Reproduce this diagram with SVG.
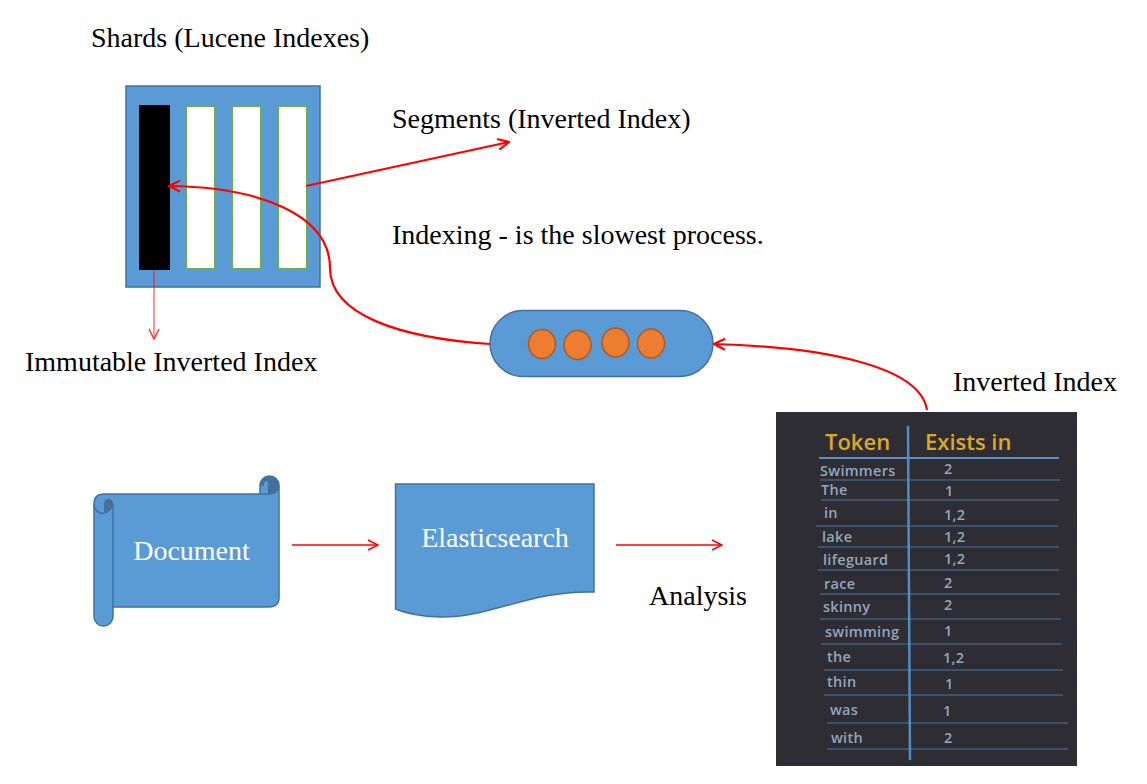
<svg xmlns="http://www.w3.org/2000/svg" width="1147" height="784" viewBox="0 0 1147 784">
<defs>
<marker id="ah" viewBox="0 0 12 12" refX="11" refY="6" markerWidth="12" markerHeight="12" markerUnits="userSpaceOnUse" orient="auto"><path d="M1 1L11 6L1 11" fill="none" stroke="#f00" stroke-width="1.500"/></marker>
<marker id="ahb" viewBox="0 0 14 14" refX="13" refY="7" markerWidth="14" markerHeight="14" markerUnits="userSpaceOnUse" orient="auto"><path d="M2 1.500L13 7L2 12.500" fill="none" stroke="#f00" stroke-width="2.200"/></marker>
</defs>
<style>
text{font-family:"Liberation Serif","Times New Roman",serif;font-size:28px;fill:#000}
.b{fill:#5b9bd5;stroke:#41719c;stroke-width:1.500}
.s{fill:#fff;stroke:#70ad47;stroke-width:2}
.o{fill:#ed7d31;stroke:#ae5a21;stroke-width:1.500}
text.w{fill:#fff}
text.tk{font-family:"Open Sans","DejaVu Sans",sans-serif;font-size:14.500px;fill:#93a6bb;font-weight:600;letter-spacing:.3px}
text.hd{font-family:"Open Sans","DejaVu Sans",sans-serif;font-size:22px;fill:#dba828;font-weight:600}
.rl{stroke:#4a78a8;stroke-width:1.200}
.c{fill:none;stroke:#f00}
</style>
<rect width="1147" height="784" fill="#fff"/>
<g id="labels">
<text x="91" y="47">Shards (Lucene Indexes)</text>
<text x="392" y="128">Segments (Inverted Index)</text>
<text x="392" y="244">Indexing - is the slowest process.</text>
<text x="25" y="371">Immutable Inverted Index</text>
<text x="953" y="391">Inverted Index</text>
<text x="649" y="605">Analysis</text>
</g>
<g id="shard">
<rect class="b" x="126" y="86" width="194" height="201"/>
<rect x="139" y="105" width="31" height="165" fill="#000"/>
<rect class="s" x="186" y="106" width="29" height="163"/>
<rect class="s" x="232" y="106" width="29" height="163"/>
<rect class="s" x="278" y="106" width="29" height="163"/>
</g>
<g id="queue">
<rect class="b" x="490" y="310.500" width="223" height="66" rx="33"/>
<ellipse class="o" cx="542" cy="344" rx="13.500" ry="14.500"/>
<ellipse class="o" cx="577.500" cy="345" rx="13.500" ry="14.500"/>
<ellipse class="o" cx="615.500" cy="342.500" rx="13.500" ry="14.500"/>
<ellipse class="o" cx="651" cy="343.500" rx="13.500" ry="14.500"/>
</g>
<g id="document">
<path class="b" d="M113 494H260V485.500A9.500 9.500 0 0 1 279 485.500V597Q279 607 269 607H113V616.500A9.500 9.500 0 0 1 94 616.500V504Q94 494 104 494Z"/>
<path d="M260 485.500A9.500 9.500 0 0 1 279 485.500Q279 494 270 494H268V484Q268 481 266 481Q264 481 264 486Z" fill="#41719c" stroke="none"/>
<path d="M104 513.500A9.500 9.500 0 0 0 113 504Q113 499 108.500 499Q104 499 104 504Z" fill="#41719c"/>
<path d="M94 504A9.500 9.500 0 0 0 104 513.500M113 504V607M260 494H270A9.500 9.500 0 0 0 279 486" fill="none" stroke="#41719c" stroke-width="1.500"/>
<text class="w" x="191.500" y="560" text-anchor="middle">Document</text>
</g>
<g id="elasticsearch">
<path class="b" d="M395.500 484H594V592C530 590 490 618 440 617C420 616.500 405 613 395.500 609Z"/>
<text class="w" x="495" y="547" text-anchor="middle">Elasticsearch</text>
</g>
<g id="inverted-index-table">
<rect x="776" y="412" width="301" height="354" fill="#2d2d33"/>
<g class="rl">
<path d="M819 458H1059" stroke="#5b8fc4" stroke-width="2"/>
<path d="M820 480H1060M821 500H1059M816 526H1058M818 547H1059M818 570H1059M820 594H1060M820 619H1061M821 644H1062M824 670H1063M824 695H1063M827 723H1068M827 749H1068"/>
<path d="M908 426L910 760" stroke="#4f8cc9" stroke-width="2.500"/>
</g>
<text class="hd" x="825" y="450">Token</text>
<text class="hd" x="925" y="450">Exists in</text>
<g>
<text class="tk" x="820" y="476">Swimmers</text><text class="tk" x="944" y="474">2</text>
<text class="tk" x="821" y="495">The</text><text class="tk" x="945" y="496">1</text>
<text class="tk" x="824" y="518">in</text><text class="tk" x="944" y="520">1,2</text>
<text class="tk" x="822" y="542">lake</text><text class="tk" x="944" y="542">1,2</text>
<text class="tk" x="823" y="565">lifeguard</text><text class="tk" x="944" y="564">1,2</text>
<text class="tk" x="824" y="589">race</text><text class="tk" x="944" y="588">2</text>
<text class="tk" x="823" y="612">skinny</text><text class="tk" x="944" y="610">2</text>
<text class="tk" x="825" y="637">swimming</text><text class="tk" x="944" y="636">1</text>
<text class="tk" x="827" y="662">the</text><text class="tk" x="943" y="663">1,2</text>
<text class="tk" x="827" y="687">thin</text><text class="tk" x="945" y="689">1</text>
<text class="tk" x="830" y="715">was</text><text class="tk" x="943" y="716">1</text>
<text class="tk" x="831" y="743">with</text><text class="tk" x="944" y="743">2</text>
</g>
</g>
<g id="connectors">
<path class="c" stroke-width="2.200" marker-end="url(#ahb)" d="M306 186L509 142"/>
<path class="c" stroke-width="2.200" marker-end="url(#ahb)" d="M490 344C400 338 330 315 330 268C330 215 260 187 169 186"/>
<path class="c" stroke-width="2.200" marker-end="url(#ahb)" d="M927 410C920 365 820 347 714 344"/>
<path class="c" stroke-width="1" marker-end="url(#ah)" d="M154 270V339" opacity=".8"/>
<path class="c" stroke-width="1.300" marker-end="url(#ah)" d="M292 545H378"/>
<path class="c" stroke-width="1.300" marker-end="url(#ah)" d="M616 545H722"/>
</g>
</svg>
